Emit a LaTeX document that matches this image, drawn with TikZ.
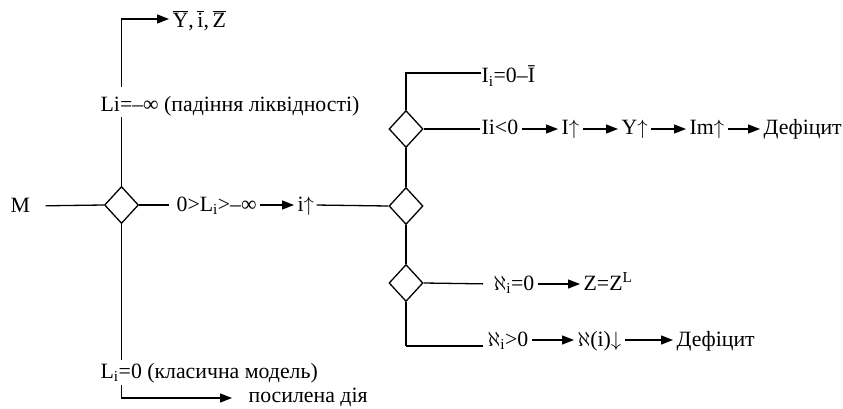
\documentclass[tikz,border=0pt]{standalone}
\usepackage{fontspec}
\setmainfont{Liberation Serif}
\usetikzlibrary{shapes.geometric,arrows.meta}
\newcommand{\ovl}[1]{\vbox{\hrule height 0.9pt\kern 1.6pt\hbox{#1}}}
\newcommand{\sbi}{\textsubscript{i}}
\newcommand{\upa}{$\uparrow$}
\newcommand{\dna}{$\downarrow$}
\begin{document}
\begin{tikzpicture}[x=1pt,y=-1pt,font=\fontsize{21.8}{24}\selectfont,line width=1.3pt,
  dia/.style={draw,diamond,minimum width=34pt,minimum height=37pt,inner sep=0pt},
  txt/.style={inner sep=0pt,text height=14pt,text depth=2pt,anchor=west},
  arr/.style={-{Triangle[length=12pt,width=9pt]},shorten >=3pt,shorten <=3pt}]
\useasboundingbox (0,0) rectangle (843,409);
% diamonds
\node[dia] (D1) at (121.5,205) {};
\node[dia] (D2) at (406,129) {};
\node[dia] (D3) at (406,206) {};
\node[dia] (D4) at (406,283) {};
% texts
\node[txt] (M) at (10,206) {M};
\node[txt] (cond) at (176,205) {0>L\sbi>–∞};
\node[txt] (iup) at (297,205) {i\upa};
\node[txt] (Linf) at (100,106) {Li=–∞ (падіння ліквідності)};
\node[txt] (Ybar) at (172,22) {\ovl{Y},\,\ovl{i},\,\ovl{Z}};
\node[txt] (Li0) at (100,372) {L\sbi=0 (класична модель)};
\node[txt] (pos) at (248,396) {посилена дія};
\node[txt] (Iz) at (481,77) {I\sbi=0–Ī};
\node[txt] (Ineg) at (481,129) {Ii<0};
\node[txt] (Iup) at (561,129) {I\upa};
\node[txt] (Yup) at (621,129) {Y\upa};
\node[txt] (Imup) at (689,129) {Im\upa};
\node[txt] (Def1) at (763,129) {Дефіцит};
\node[txt] (A0) at (493,284) {$\aleph$\sbi=0};
\node[txt] (ZZ) at (583,284) {Z=Z\textsuperscript{L}};
\node[txt] (A1) at (487,340) {$\aleph$\sbi>0};
\node[txt] (Ai) at (577,340) {$\aleph$(i)\dna};
\node[txt] (Def2) at (676,340) {Дефіцит};
% helper coordinates
\coordinate (t1) at (121.5,117);
\coordinate (t2) at (121.5,87);
\coordinate (c1) at (121.5,19);
\coordinate (b1) at (121.5,360);
\coordinate (b2) at (121.5,385);
\coordinate (b3) at (121.5,398);
\coordinate (c2) at (406,73);
\coordinate (c4) at (406,346);
% connectors
\draw[shorten <=15pt] (M.east) -- (D1.west);
\draw[shorten >=7pt] (D1.east) -- (cond.west);
\draw[arr] (cond.east) -- (iup.west);
\draw[shorten <=2pt] (iup.east) -- (D3.west);
\draw (D3.north) -- (D2.south);
\draw (D3.south) -- (D4.north);
\draw (D2.north) -- (c2) -- (Iz.west |- c2);
\draw[shorten >=1pt] (D2.east) -- (Ineg.west);
\draw[arr] (Ineg.east) -- (Iup.west);
\draw[arr] (Iup.east) -- (Yup.west);
\draw[arr] (Yup.east) -- (Imup.west);
\draw[arr] (Imup.east) -- (Def1.west);
\draw[shorten >=10pt] (D4.east) -- (A0.west);
\draw[arr] (A0.east) -- (ZZ.west);
\draw (D4.south) -- (c4);
\draw[shorten >=4pt] (c4) -- (A1.west |- c4);
\draw[arr] (A1.east) -- (Ai.west);
\draw[arr] (Ai.east) -- (Def2.west);
\draw (D1.north) -- (t1);
\draw[arr,shorten <=0pt] (t2) -- (c1) -- (Ybar.west |- c1);
\draw (D1.south) -- (b1);
\draw[arr,shorten <=0pt,shorten >=16pt] (b2) -- (b3) -- (pos.west |- b3);
\end{tikzpicture}
\end{document}
